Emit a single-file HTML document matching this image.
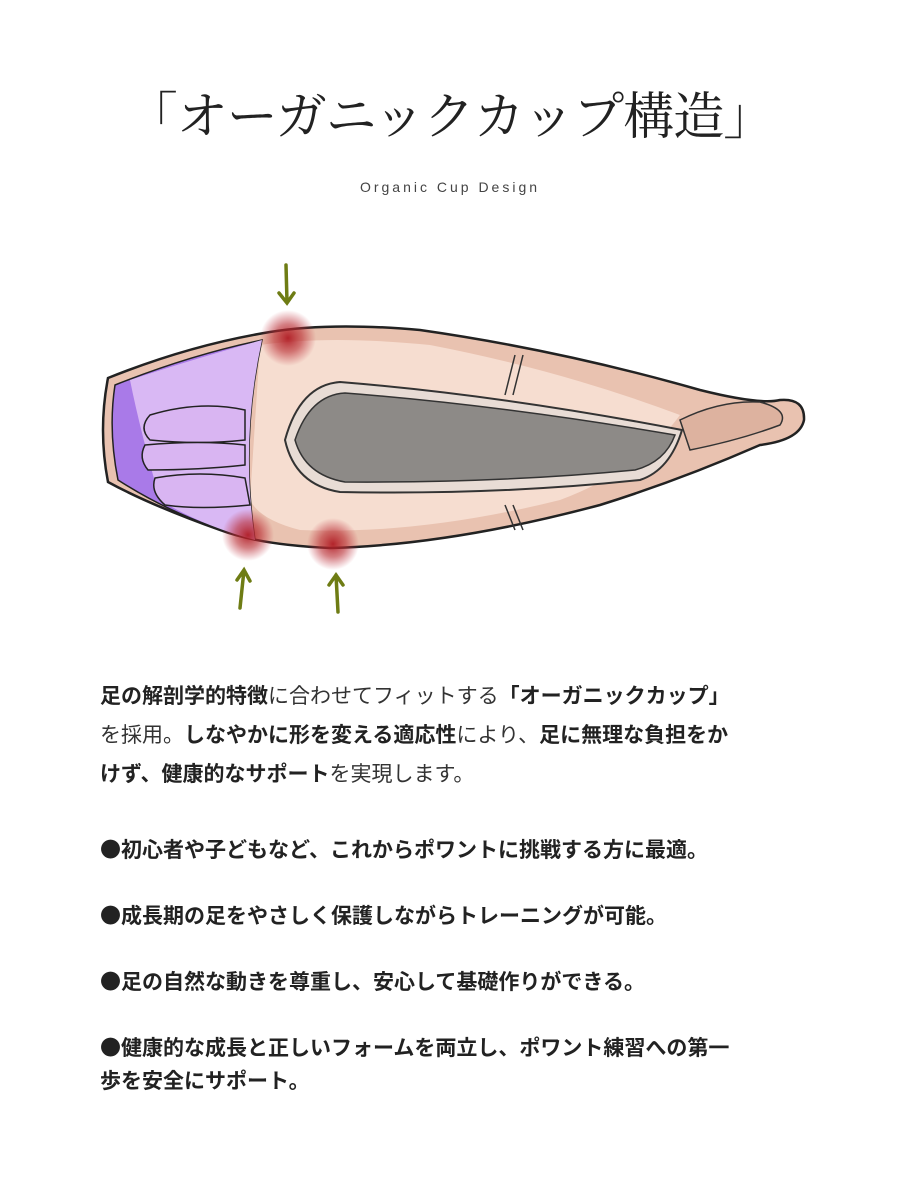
<!DOCTYPE html>
<html><head><meta charset="utf-8"><style>
body{margin:0;width:900px;height:1200px;background:#fff;overflow:hidden;position:relative;font-family:"Liberation Sans","Noto Sans CJK JP",sans-serif;color:#333}
.t{position:absolute;left:0;width:900px;text-align:center;top:88px;font-family:"Liberation Serif","Noto Serif CJK JP",serif;font-size:51px;color:#222;line-height:60px;letter-spacing:-1px}
.s{position:absolute;left:0;width:900px;text-align:center;top:179px;font-size:14px;letter-spacing:3px;color:#444}
.p{position:absolute;left:100px;width:720px;font-size:21px;line-height:39px;top:677px}
b{font-weight:bold;color:#222}
.l{position:absolute;left:100px;font-size:21px;line-height:33px;font-weight:bold;color:#222;width:720px}
.d{font-family:"Noto Sans CJK JP",sans-serif}
</style></head><body>
<div class="t">「オーガニックカップ構造」</div>
<div class="s">Organic Cup Design</div>
<svg style="position:absolute;left:0;top:0" width="900" height="660">
<defs>
<radialGradient id="r"><stop offset="0" stop-color="#b01c24" stop-opacity=".95"/><stop offset=".5" stop-color="#b82a30" stop-opacity=".6"/><stop offset="1" stop-color="#c03040" stop-opacity="0"/></radialGradient>
</defs>
<path d="M108,378 Q190,345 270,332 Q330,322 420,330 Q560,350 700,390 Q760,405 780,400 Q805,398 804,420 Q800,440 760,445 Q680,480 600,505 Q450,545 330,548 Q260,545 220,530 Q150,505 108,482 Q98,430 108,378Z" fill="#e9c2b0" stroke="#222" stroke-width="2.5"/>
<path d="M260,345 Q330,335 430,345 Q560,370 680,415 Q640,470 560,500 Q420,535 300,530 Q260,520 250,500Z" fill="#f6ddd0"/>
<path d="M115,385 Q190,355 262,340 Q240,440 255,540 Q180,520 118,480 Q108,430 115,385Z" fill="#a97ae8" stroke="#222" stroke-width="1.5"/>
<path d="M130,380 Q190,360 262,340 Q240,440 255,540 Q200,525 160,500 Q140,430 130,380Z" fill="#d9b8f4"/>
<g fill="#d9b5f2" stroke="#222" stroke-width="1.5">
<path d="M150,415 Q200,400 245,410 L245,440 Q200,445 150,440 Q138,428 150,415Z"/>
<path d="M145,445 Q200,440 245,445 L245,465 Q200,470 148,470 Q138,458 145,445Z"/>
<path d="M155,478 Q200,470 245,478 L250,505 Q200,510 165,505 Q150,492 155,478Z"/>
</g>
<path d="M285,440 Q300,385 340,382 Q500,395 682,430 Q670,470 640,480 Q500,495 340,492 Q295,485 285,440Z" fill="#e8dcd5" stroke="#333" stroke-width="2"/>
<path d="M295,440 Q310,395 345,393 Q500,405 675,435 Q665,462 635,470 Q500,483 345,482 Q305,475 295,440Z" fill="#8d8a87" stroke="#333" stroke-width="1.5"/>
<path d="M680,420 Q720,400 760,402 Q790,410 780,425 Q740,440 690,450Z" fill="#ddb29f" stroke="#333" stroke-width="1.5"/>
<path d="M515,355 L505,395 M523,355 L513,395 M505,505 L515,530 M513,505 L523,530" stroke="#333" stroke-width="1.5" fill="none"/>
<circle cx="288" cy="338" r="28" fill="url(#r)"/>
<circle cx="248" cy="535" r="26" fill="url(#r)"/>
<circle cx="333" cy="544" r="26" fill="url(#r)"/>
<g stroke="#6e7c14" stroke-width="3.5" fill="none" stroke-linecap="round">
<path d="M286,265 L287,302 M279,293 L287,303 L294,293"/>
<path d="M240,608 L244,570 M237,580 L244,570 L250,581"/>
<path d="M338,612 L336,575 M329,585 L336,575 L343,585"/>
</g>
</svg>
<div class="p"><b>足の解剖学的特徴</b>に合わせてフィットする<b>「オーガニックカップ」</b><br>を採用。<b>しなやかに形を変える適応性</b>により、<b>足に無理な負担をか<br>けず、健康的なサポート</b>を実現します。</div>
<div class="l" style="top:833px"><span class="d">●</span>初心者や子どもなど、これからポワントに挑戦する方に最適。</div>
<div class="l" style="top:899px"><span class="d">●</span>成長期の足をやさしく保護しながらトレーニングが可能。</div>
<div class="l" style="top:965px"><span class="d">●</span>足の自然な動きを尊重し、安心して基礎作りができる。</div>
<div class="l" style="top:1031px"><span class="d">●</span>健康的な成長と正しいフォームを両立し、ポワント練習への第一<br>歩を安全にサポート。</div>
</body></html>
